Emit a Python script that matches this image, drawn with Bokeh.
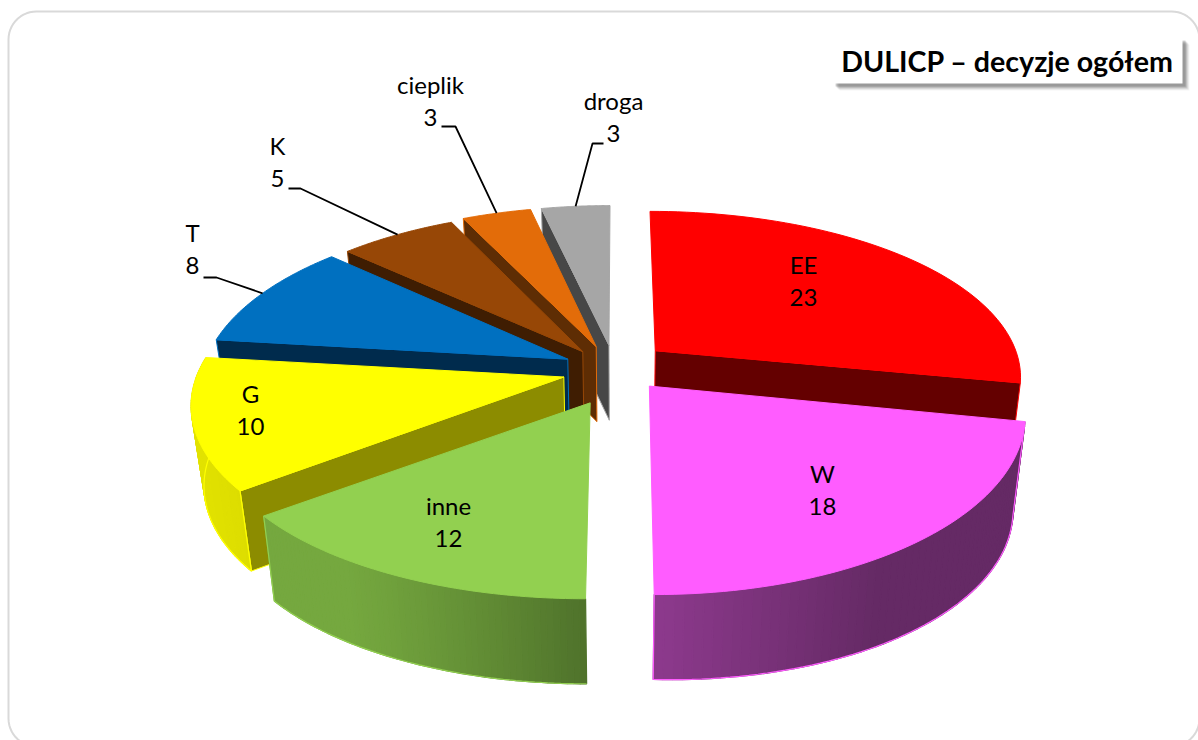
import numpy as np
from bokeh.plotting import figure
from bokeh.models import ColumnDataSource
from bokeh.core.properties import value
from bokeh.embed import file_html
from bokeh.resources import INLINE

# --- data ---
names = ["EE", "W", "inne", "G", "T", "K", "cieplik", "droga"]
values = [23, 18, 12, 10, 8, 5, 3, 3]
title_text = "DULICP – decyzje ogółem"

# --- style / layout ---
top_colors = ["#ff0000", "#ff5cff", "#92d050", "#ffff00", "#0070c0", "#974706", "#e36c09", "#a6a6a6"]
side_dark = ["#640000", "#5f275f", "#4f722b", "#8c8c00", "#002b4d", "#3f1d02", "#5e2d04", "#474747"]
rim_light = ["#640000", "#8e3a8e", "#75a83f", "#e2e200", "#00508a", "#6b3204", "#a04c06", "#767676"]
rim_dark = ["#640000", "#652a65", "#4f722b", "#dcdc00", "#002b4d", "#3f1d02", "#5e2d04", "#474747"]
explode = [0.125, 0.135, 0.20, 0.16, 0.16, 0.16, 0.16, 0.16]
rim_scale_y = [0.96, 1.0, 0.93, 0.97, 1.0, 1.0, 1.0, 1.0]
shift_x = [0, -3, 3, 0, 0, -3, -5, -5]
shift_y = [-6, -3, 0, -1, 0, 3, 2, 2]
depths = [84, 84, 85, 80, 75, 75, 75, 75]
wall_edge = [1, None, None, 0, 0, 0, 0, 0]
has_rim_wall = [False, True, True, True, False, False, False, False]
lit_ends = [(), (0, -1), (-1,), (0,), (), (), (), ()]
draw_order = [7, 6, 5, 4, 3, 0, 2, 1]
CX, CY, RX, RY, K = 620.0, 370.0, 365.0, 175.6, 0.155
CONV = 0.03

label_x = [803, 822, 448, 250, 192, 277, 430, 613]
label_y = [264, 473, 505, 393, 232, 145, 84, 100]
LINE_GAP = 33
elbows = {4: [(203, 277), (216, 277)], 5: [(288, 188), (300, 188)],
          6: [(441, 126), (455, 126)], 7: [(603, 143), (592, 143)]}
FONT = "Lato"


def proj(wx, wy):
    s = 1 - K * wy
    return CX + RX * wx * s, CY - RY * wy * s


total = sum(values)
cum = np.cumsum([0] + values) / total * 2 * np.pi
starts, ends = cum[:-1], cum[1:]

xs, ys, fills, lines, widths, alphas = [], [], [], [], [], []


def add(px, py, fill, line, w=1.0, alpha=1.0):
    xs.append(list(np.asarray(px, float)))
    ys.append(list(np.asarray(py, float)))
    fills.append(fill)
    lines.append(line)
    widths.append(w)
    alphas.append(alpha)


def mix(c1, c2, t):
    a = [int(c1[i:i + 2], 16) for i in (1, 3, 5)]
    b = [int(c2[i:i + 2], 16) for i in (1, 3, 5)]
    return "#%02x%02x%02x" % tuple(int(round(u + (v - u) * t)) for u, v in zip(a, b))


rim_mid = {}
for i in draw_order:
    a0, a1 = starts[i], ends[i]
    b = (a0 + a1) / 2
    ax, ay = explode[i] * np.sin(b), explode[i] * np.cos(b)
    th = np.linspace(a0, a1, 60)
    wx, wy = ax + np.sin(th), ay + rim_scale_y[i] * np.cos(th)
    rx, ry = proj(wx, wy)
    rx, ry = rx + shift_x[i], ry + shift_y[i]
    apx, apy = proj(ax, ay)
    apx, apy = apx + shift_x[i], apy + shift_y[i]

    def down(x, y, w):
        return x + (CX - x) * CONV, y + depths[i] + 10 * np.clip(w, 0, None)

    bx, by = down(rx, ry, wx)
    abx, aby = down(apx, apy, ax)
    mm = proj(ax + np.sin(b), ay + rim_scale_y[i] * np.cos(b))
    rim_mid[i] = (mm[0] + shift_x[i], mm[1] + shift_y[i])
    # the radial wall that faces the viewer
    if wall_edge[i] is not None:
        j = -wall_edge[i]
        add([apx, rx[j], bx[j], abx], [apy, ry[j], by[j], aby], side_dark[i], top_colors[i], 1.0)
    # rim wall, as strips with a horizontal shading
    if has_rim_wall[i]:
        idx = np.where(np.cos(th) < 0.3)[0]
        for j in idx[:-1]:
            xm = (rx[j] + rx[j + 1]) / 2
            if i == 1:
                t = np.clip((xm - 650) / 230, 0, 1)
            elif i == 2:
                t = np.clip((xm - 340) / 245, 0, 1) ** 1.2
            else:
                t = np.clip((xm - 190) / 60, 0, 1)
            c = mix(rim_light[i], rim_dark[i], t)
            add([rx[j], rx[j + 1], bx[j + 1], bx[j]], [ry[j], ry[j + 1], by[j + 1], by[j]], c, c, 1.3)
        # lit edge: lower rim and the chosen vertical ends, as a path walked there and back
        ex, ey = list(bx[idx]), list(by[idx])
        if 0 in lit_ends[i]:
            ex = [rx[idx[0]]] + ex
            ey = [ry[idx[0]]] + ey
        if -1 in lit_ends[i]:
            ex = ex + [rx[idx[-1]]]
            ey = ey + [ry[idx[-1]]]
        add(ex + ex[::-1], ey + ey[::-1], top_colors[i], top_colors[i], 1.2, 0.0)
    # top face
    add([apx] + list(rx), [apy] + list(ry), top_colors[i], top_colors[i], 1.0)

p = figure(width=1198, height=740, x_range=(0, 1198), y_range=(740, 0),
           toolbar_location=None, output_backend="svg", min_border=0,
           background_fill_color="white", border_fill_color="white")
p.axis.visible = False
p.grid.visible = False
p.outline_line_color = None

# rounded frame
r = 28.0
L, T, R, B = 8.0, 11.0, 1199.0, 746.0
corner = np.linspace(0, np.pi / 2, 14)
fx = list(L + r - r * np.cos(corner)) + list(R - r + r * np.sin(corner)) + list(R - r + r * np.cos(corner)) + list(L + r - r * np.sin(corner))
fy = list(T + r - r * np.sin(corner)) + list(T + r - r * np.cos(corner)) + list(B - r + r * np.sin(corner)) + list(B - r + r * np.cos(corner))
p.patch(fx + fx[:1], fy + fy[:1], fill_color="white", line_color="#d9d9d9", line_width=2)

src = ColumnDataSource(dict(xs=xs, ys=ys, fill=fills, line=lines, w=widths, a=alphas))
p.patches("xs", "ys", source=src, fill_color="fill", fill_alpha="a", line_color="line", line_width="w")

# leaders
for i, pts in elbows.items():
    mx, my = rim_mid[i]
    p.line([pts[0][0], pts[1][0], mx], [pts[0][1], pts[1][1], my], line_color="black", line_width=1.8)

# labels
p.text(label_x, label_y, text=names, text_align="center", text_baseline="middle",
       text_font=value(FONT), text_font_size="24px", text_color="black")
p.text(label_x, [y + LINE_GAP for y in label_y], text=[str(v) for v in values], text_align="center",
       text_baseline="middle", text_font=value(FONT), text_font_size="24px", text_color="black")

# title box, with a soft shadow
for off, alpha in [(7, 0.06), (6, 0.1), (5, 0.14), (4, 0.18), (3, 0.22)]:
    p.quad(left=[832 + off], right=[1182 + off], top=[37 + off], bottom=[83 + off],
           fill_color="#404040", fill_alpha=alpha, line_color=None)
p.quad(left=[832], right=[1182], top=[37], bottom=[83], fill_color="white", line_color=None)
p.text([1007], [60], text=[title_text], text_align="center", text_baseline="middle",
       text_font=value(FONT), text_font_style="bold", text_font_size="28.6px", text_color="black")

open("out.html", "w").write(file_html(p, INLINE))
